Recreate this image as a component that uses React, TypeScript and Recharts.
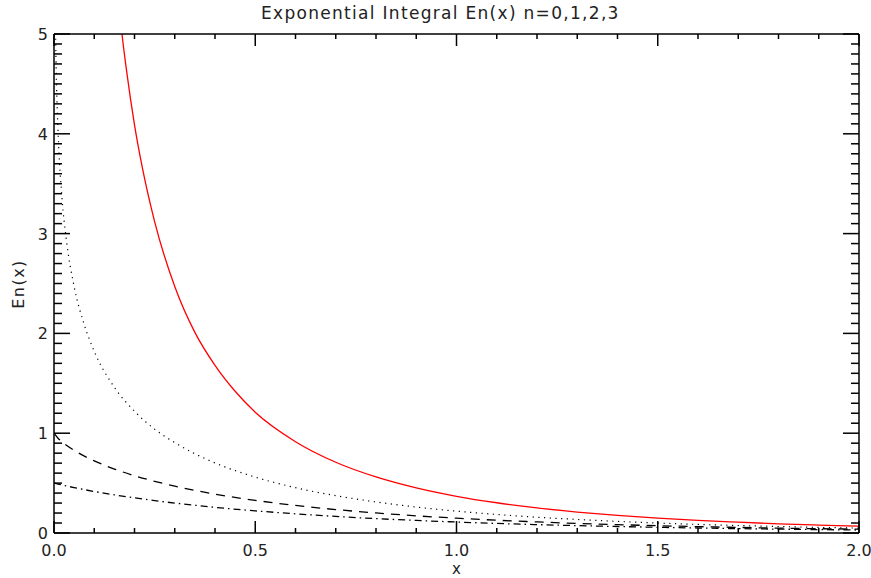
import { LineChart, Line, XAxis, YAxis } from 'recharts';

// values
const e0X = [0.16, 0.17, 0.18, 0.2, 0.22, 0.25, 0.3, 0.35, 0.4, 0.45, 0.5, 0.6, 0.7, 0.8, 0.9, 1.0, 1.1, 1.2, 1.3, 1.4, 1.5, 1.6, 1.7, 1.8, 1.9, 2.0];
const e0Y = [5.33, 4.96, 4.64, 4.09, 3.65, 3.12, 2.47, 2.01, 1.68, 1.42, 1.21, 0.915, 0.709, 0.562, 0.452, 0.368, 0.303, 0.251, 0.21, 0.176, 0.149, 0.126, 0.108, 0.092, 0.079, 0.068];

const e1X = [0.002, 0.005, 0.01, 0.02, 0.03, 0.05, 0.075, 0.1, 0.15, 0.2, 0.25, 0.3, 0.35, 0.4, 0.5, 0.6, 0.7, 0.8, 0.9, 1.0, 1.1, 1.2, 1.3, 1.4, 1.5, 1.6, 1.7, 1.8, 1.9, 2.0];
const e1Y = [5.64, 4.73, 4.04, 3.35, 2.96, 2.47, 2.09, 1.82, 1.46, 1.22, 1.04, 0.906, 0.794, 0.702, 0.56, 0.454, 0.374, 0.311, 0.26, 0.219, 0.186, 0.158, 0.136, 0.116, 0.1, 0.086, 0.075, 0.065, 0.056, 0.049];

const e23X = [0, 0.01, 0.02, 0.05, 0.1, 0.15, 0.2, 0.25, 0.3, 0.35, 0.4, 0.5, 0.6, 0.7, 0.8, 0.9, 1.0, 1.1, 1.2, 1.3, 1.4, 1.5, 1.6, 1.7, 1.8, 1.9, 2.0];
const e2Y = [1.0, 0.95, 0.913, 0.828, 0.723, 0.641, 0.574, 0.518, 0.469, 0.427, 0.389, 0.327, 0.276, 0.235, 0.201, 0.172, 0.149, 0.128, 0.111, 0.096, 0.084, 0.073, 0.064, 0.056, 0.049, 0.043, 0.038];
const e3Y = [0.5, 0.49, 0.481, 0.455, 0.416, 0.382, 0.352, 0.325, 0.3, 0.278, 0.257, 0.222, 0.192, 0.166, 0.144, 0.126, 0.11, 0.096, 0.084, 0.074, 0.065, 0.057, 0.05, 0.044, 0.039, 0.034, 0.03];

const xMajor = [0, 0.5, 1, 1.5, 2];
const xMajorLabels = ['0.0', '0.5', '1.0', '1.5', '2.0'];
const yMajor = [0, 1, 2, 3, 4, 5];
const yMajorLabels = ['0', '1', '2', '3', '4', '5'];

const toPts = (xs: number[], ys: number[]) => xs.map((x, i) => ({ x, y: ys[i] }));

// minor ticks every 0.1
const xTicks: number[] = [];
for (let i = 0; i <= 20; i++) xTicks.push(i / 10);
const yTicks: number[] = [];
for (let i = 0; i <= 50; i++) yTicks.push(i / 10);

const FONT = '"DejaVu Sans", sans-serif';
const INK = '#000';
const TEXT = '#222';
const AXW = 1.5;

const majorIdx = (list: number[], v: number) => list.findIndex((m) => Math.abs(m - v) < 1e-6);

function bottomTick(p: any) {
  const { x, y, payload } = p;
  const k = majorIdx(xMajor, payload.value);
  return (
    <g>
      <line x1={x} y1={y} x2={x} y2={y - (k >= 0 ? 12 : 5)} stroke={INK} strokeWidth={AXW} />
      {k >= 0 && (
        <text x={x} y={y + 23} textAnchor="middle" fontSize={16} fontFamily={FONT} fill={TEXT}>
          {xMajorLabels[k]}
        </text>
      )}
    </g>
  );
}

function topTick(p: any) {
  const { x, y, payload } = p;
  const k = majorIdx(xMajor, payload.value);
  return <line x1={x} y1={y} x2={x} y2={y + (k >= 0 ? 12 : 5)} stroke={INK} strokeWidth={AXW} />;
}

function leftTick(p: any) {
  const { x, y, payload } = p;
  const k = majorIdx(yMajor, payload.value);
  return (
    <g>
      <line x1={x} y1={y} x2={x + (k >= 0 ? 16 : 8)} y2={y} stroke={INK} strokeWidth={AXW} />
      {k >= 0 && (
        <text x={x - 6} y={y + 6} textAnchor="end" fontSize={16} fontFamily={FONT} fill={TEXT}>
          {yMajorLabels[k]}
        </text>
      )}
    </g>
  );
}

function rightTick(p: any) {
  const { x, y, payload } = p;
  const k = majorIdx(yMajor, payload.value);
  return <line x1={x} y1={y} x2={x - (k >= 0 ? 16 : 8)} y2={y} stroke={INK} strokeWidth={AXW} />;
}

export default function App() {
  return (
    <div style={{ position: 'absolute', left: 0, top: 0, width: 871, height: 578, background: '#fff' }}>
      <div
        style={{
          position: 'absolute',
          left: 261,
          top: 3,
          fontFamily: FONT,
          fontSize: 17,
          letterSpacing: 1.3,
          color: TEXT,
          whiteSpace: 'nowrap',
        }}
      >
        Exponential Integral En(x) n=0,1,2,3
      </div>
      <div
        style={{
          position: 'absolute',
          left: 18,
          top: 284,
          transform: 'translate(-50%, -50%) rotate(-90deg)',
          fontFamily: FONT,
          fontSize: 16,
          letterSpacing: 1.5,
          color: TEXT,
          whiteSpace: 'nowrap',
          zIndex: 1,
        }}
      >
        En(x)
      </div>
      <LineChart width={871} height={578} margin={{ top: 0, right: 0, bottom: 0, left: 0 }}>
        <XAxis
          xAxisId="b"
          dataKey="x"
          type="number"
          domain={[0, 2]}
          ticks={xTicks}
          interval={0}
          allowDataOverflow
          height={45}
          tickSize={0}
          tickMargin={0}
          tick={bottomTick}
          tickLine={false}
          axisLine={{ stroke: INK, strokeWidth: AXW }}
          label={{ value: 'x', position: 'insideBottom', offset: 4, fontSize: 15, fontFamily: FONT, fill: TEXT }}
        />
        <XAxis
          xAxisId="t"
          orientation="top"
          dataKey="x"
          type="number"
          domain={[0, 2]}
          ticks={xTicks}
          interval={0}
          allowDataOverflow
          height={34}
          tickSize={0}
          tickMargin={0}
          tick={topTick}
          tickLine={false}
          axisLine={{ stroke: INK, strokeWidth: AXW }}
        />
        <YAxis
          yAxisId="l"
          type="number"
          domain={[0, 5]}
          ticks={yTicks}
          interval={0}
          allowDataOverflow
          width={54}
          tickSize={0}
          tickMargin={0}
          tick={leftTick}
          tickLine={false}
          axisLine={{ stroke: INK, strokeWidth: AXW }}
        />
        <YAxis
          yAxisId="r"
          orientation="right"
          type="number"
          domain={[0, 5]}
          ticks={yTicks}
          interval={0}
          allowDataOverflow
          width={12}
          tickSize={0}
          tickMargin={0}
          tick={rightTick}
          tickLine={false}
          axisLine={{ stroke: INK, strokeWidth: AXW }}
        />
        <Line xAxisId="b" yAxisId="l" data={toPts(e0X, e0Y)} dataKey="y" type="monotone" stroke="#ff0000" strokeWidth={1.3} dot={false} isAnimationActive={false} />
        <Line xAxisId="b" yAxisId="l" data={toPts(e1X, e1Y)} dataKey="y" type="monotone" stroke={INK} strokeWidth={1.2} strokeDasharray="1.2 4.5" dot={false} isAnimationActive={false} />
        <Line xAxisId="b" yAxisId="l" data={toPts(e23X, e2Y)} dataKey="y" type="monotone" stroke={INK} strokeWidth={1.3} strokeDasharray="9 7" dot={false} isAnimationActive={false} />
        <Line xAxisId="b" yAxisId="l" data={toPts(e23X, e3Y)} dataKey="y" type="monotone" stroke={INK} strokeWidth={1.3} strokeDasharray="7 4 1.5 4" dot={false} isAnimationActive={false} />
        <Line xAxisId="t" yAxisId="r" data={toPts(e23X, e3Y)} dataKey="y" type="monotone" stroke="none" dot={false} isAnimationActive={false} />
      </LineChart>
    </div>
  );
}
